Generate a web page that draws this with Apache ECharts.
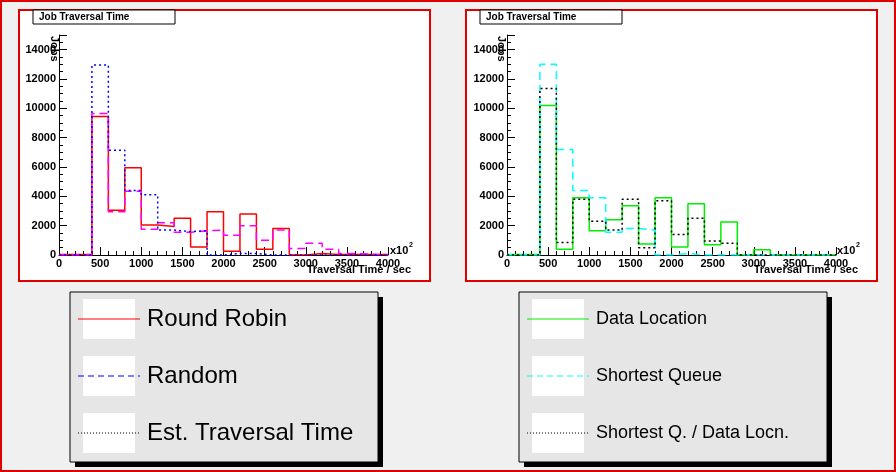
<!DOCTYPE html><html><head><meta charset="utf-8">
<script src="https://cdn.jsdelivr.net/npm/echarts@6/dist/echarts.min.js"></script>
<style>html,body{margin:0;padding:0;background:#f0f0f0}#c{width:896px;height:472px}</style></head><body><div id="c"></div>
<script>
const binEdges=[0,200,400,600,800,1000,1200,1400,1600,1800,2000,2200,2400,2600,2800,3000,3200,3400,3600,3800];
const roundRobin=[30,30,9450,3050,5950,2050,1950,2500,550,2950,250,2800,400,1800,0,100,30,30,30,30];
const randomS=[0,0,9650,2950,4350,1750,2200,1550,1650,1700,1350,2000,1000,1700,450,800,400,100,50,0];
const estTT=[0,0,12950,7150,4400,4100,1700,1600,1650,0,100,100,0,0,0,0,0,0,0,0];
const dataLoc=[30,30,10200,400,3900,1650,2400,3350,750,3900,550,3500,700,2250,0,350,0,0,0,0];
const shortQ=[0,0,13000,7200,4400,3900,1550,1800,1700,0,100,0,0,0,0,0,0,0,0,0];
const shortQD=[0,0,11350,850,3800,2300,1700,3800,500,3700,1400,2500,950,800,0,0,0,0,0,0];
const xTicks=[0,500,1000,1500,2000,2500,3000,3500,4000];
const yTicks=[0,2000,4000,6000,8000,10000,12000,14000];
function hist(v){const d=binEdges.map((x,i)=>[x,v[i]]);d.push([4000,v[v.length-1]]);return d;}
const F='Liberation Sans';
function axes(i){return {
 x:{gridIndex:i,type:'value',min:0,max:4000,interval:500,axisLine:{lineStyle:{color:'#000'}},axisTick:{inside:true,length:8,lineStyle:{color:'#000'}},minorTick:{show:true,splitNumber:5,length:4,lineStyle:{color:'#000'}},
  axisLabel:{color:'#000',fontWeight:'bold',fontFamily:F,fontSize:11,margin:3,formatter:v=>String(v)},splitLine:{show:false}},
 y:{gridIndex:i,type:'value',min:0,max:15000,interval:2000,axisLine:{lineStyle:{color:'#000'}},axisTick:{inside:true,length:8,lineStyle:{color:'#000'}},minorTick:{show:true,splitNumber:4,length:4,lineStyle:{color:'#000'}},
  axisLabel:{color:'#000',fontWeight:'bold',fontFamily:F,fontSize:11,margin:3,showMaxLabel:false,formatter:v=>String(v)},splitLine:{show:false}}};}
const a0=axes(0),a1=axes(1);
function s(name,data,xi,color,type){return {name,type:'line',xAxisIndex:xi,yAxisIndex:xi,data:hist(data),step:'end',symbol:'none',lineStyle:{color,width:1.5,type},z:type==='solid'?3:4,animation:false};}
function legend(x,y,items,fs){const g=[];
 g.push({type:'rect',shape:{x:x+5,y:y+5,width:308,height:170},style:{fill:'#000'}});
 g.push({type:'rect',shape:{x:x,y:y,width:308,height:170},style:{fill:'#e6e6e6',stroke:'#000',lineWidth:1}});
 items.forEach((it,k)=>{const cy=y+27+k*57;
  g.push({type:'rect',shape:{x:x+13,y:cy-20,width:52,height:40},style:{fill:'#fff'}});
  g.push({type:'line',shape:{x1:x+8,y1:cy,x2:x+70,y2:cy},style:{stroke:it.c,lineWidth:1,lineDash:it.d}});
  g.push({type:'text',x:x+77,y:cy,style:{text:it.t,fill:'#000',font:fs+'px '+F,verticalAlign:'middle'}});});
 return g;}
function pad(x){return [{type:'rect',z:-5,shape:{x:x,y:10,width:411,height:271},style:{fill:'#fff',stroke:'#e00000',lineWidth:2}},
 {type:'rect',shape:{x:x+14,y:10,width:142,height:14},style:{fill:'#fff',stroke:'#000',lineWidth:1}},
 {type:'text',x:x+20,y:17,style:{text:'Job Traversal Time',font:'bold 10px '+F,fill:'#000',verticalAlign:'middle'}},
 {type:'text',x:x+35,y:36,rotation:-Math.PI/2,style:{text:'Jobs',font:'bold 11px '+F,fill:'#000',verticalAlign:'middle'}},
 {type:'text',x:x+371,y:251,style:{text:'x10',font:'bold 11px '+F,fill:'#000',verticalAlign:'middle'}},
 {type:'text',x:x+390,y:245,style:{text:'2',font:'bold 7px '+F,fill:'#000',verticalAlign:'middle'}},
 {type:'text',x:x+392,y:270,style:{text:'Traversal Time / sec',font:'bold 11px '+F,fill:'#000',align:'right',verticalAlign:'middle'}}];}
const chart=echarts.init(document.getElementById('c'));
chart.setOption({animation:false,backgroundColor:'#f0f0f0',
 grid:[{left:59,top:35,width:329,height:220,outerBoundsMode:'none',containLabel:false},{left:507,top:35,width:329,height:220,outerBoundsMode:'none',containLabel:false}],
 xAxis:[a0.x,a1.x],yAxis:[a0.y,a1.y],
 series:[s('Round Robin',roundRobin,0,'#ff0000','solid'),s('Random',randomS,0,'#ff00ff',[8,5]),s('Est. Traversal Time',estTT,0,'#0000ff',[2,3]),
  s('Data Location',dataLoc,1,'#00ee00','solid'),s('Shortest Queue',shortQ,1,'#00ffff',[8,5]),s('Shortest Q. / Data Locn.',shortQD,1,'#000000',[2,3])],
 graphic:[{type:'rect',z:-10,shape:{x:1,y:1,width:894,height:470},style:{fill:'none',stroke:'#e00000',lineWidth:2}},
  ...pad(19),...pad(466),
  ...legend(70,292,[{t:'Round Robin',c:'#ff0000'},{t:'Random',c:'#0000ff',d:[6,4]},{t:'Est. Traversal Time',c:'#000',d:[1,2]}],24),
  ...legend(519,292,[{t:'Data Location',c:'#00ee00'},{t:'Shortest Queue',c:'#00ffff',d:[6,4]},{t:'Shortest Q. / Data Locn.',c:'#000',d:[1,2]}],18)]
});
</script></body></html>
